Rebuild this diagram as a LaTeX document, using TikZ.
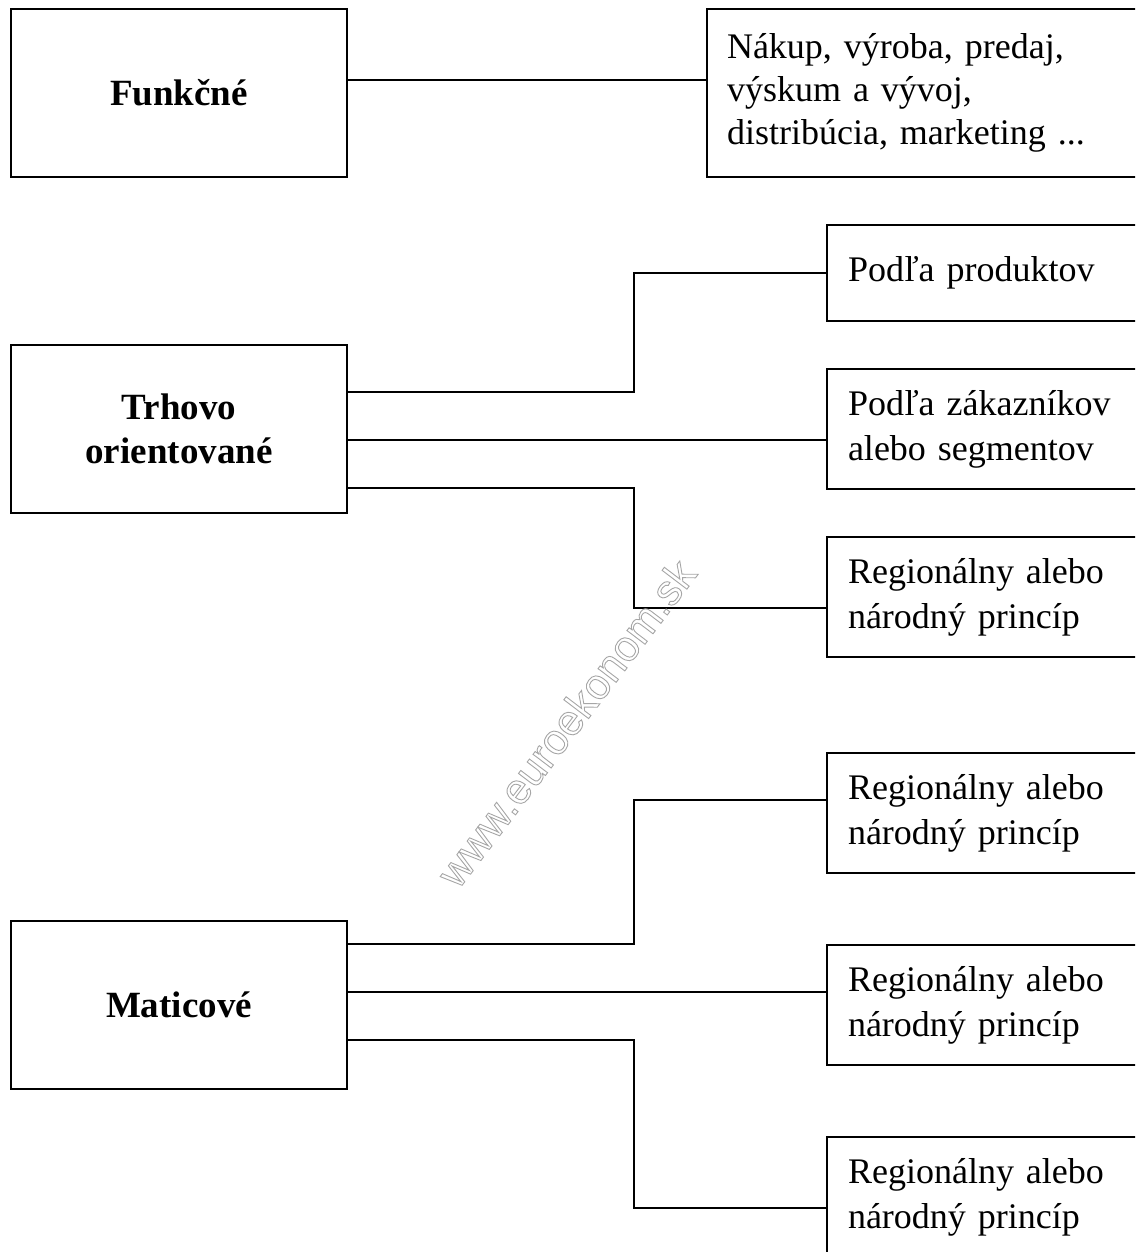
\documentclass[tikz,border=0pt]{standalone}
\usepackage{fontspec}
\setmainfont{Liberation Serif}
\newfontfamily\wmfont{Liberation Sans}
% outlined (stroked) text through the PDF text render mode
\newcommand{\outlinetext}[1]{\special{pdf:literal direct 1 Tr 0.9 w}#1\special{pdf:literal direct 0 Tr}}
\begin{document}
\begin{tikzpicture}[x=1pt,y=-1pt,
  catbox/.style={draw,line width=2pt,rectangle,inner sep=0pt,anchor=north west,
    minimum width=336pt,minimum height=168pt,align=center,
    font=\fontsize{37}{44}\selectfont\bfseries},
  itembox/.style={draw,line width=2pt,rectangle,inner ysep=0pt,inner xsep=21pt,anchor=north west,
    text width=282pt,minimum height=120pt,align=left,
    font=\fontsize{36}{45}\selectfont},
  link/.style={line width=1.6pt}]
\useasboundingbox (0,0) rectangle (1135,1252);
\clip (0,0) rectangle (1135,1252);

% category boxes on the left
\node[catbox] (F) at (10,8) {Funkčné};
\node[catbox] (T) at (10,344) {Trhovo\\orientované};
\node[catbox] (M) at (10,920) {Maticové};

% item boxes on the right
\node[itembox,text width=402pt,minimum height=168pt,inner xsep=20pt,font=\fontsize{36}{43}\selectfont] (R0) at (706,8)
  {Nákup, výroba, predaj,\\výskum a vývoj,\\distribúcia, marketing ...};
\node[itembox,minimum height=96pt] (R1) at (826,224) {Podľa produktov};
\node[itembox] (R2) at (826,368) {Podľa zákazníkov\\alebo segmentov};
\node[itembox] (R3) at (826,536) {Regionálny alebo\\národný princíp};
\node[itembox] (R4) at (826,752) {Regionálny alebo\\národný princíp};
\node[itembox] (R5) at (826,944) {Regionálny alebo\\národný princíp};
\node[itembox] (R6) at (826,1136) {Regionálny alebo\\národný princíp};

% connectors
\draw[link] (F.east |- 0,80) -- (R0.west |- 0,80);

\draw[link] (T.east |- 0,392) -- (634,392) |- (R1.west);
\draw[link] (T.east |- 0,440) -- (R2.west |- 0,440);
\draw[link] (T.east |- 0,488) -- (634,488) |- (R3.west |- 0,608);

\draw[link] (M.east |- 0,944) -- (634,944) |- (R4.west |- 0,800);
\draw[link] (M.east |- 0,992) -- (R5.west |- 0,992);
\draw[link] (M.east |- 0,1040) -- (634,1040) |- (R6.west |- 0,1208);

% watermark
\node[rotate=52.8,inner sep=0pt,text=black!35,font=\wmfont\fontsize{43}{43}\selectfont] (wm) at (566,723)
  {\outlinetext{www.euroekonom.sk}};
\end{tikzpicture}
\end{document}
